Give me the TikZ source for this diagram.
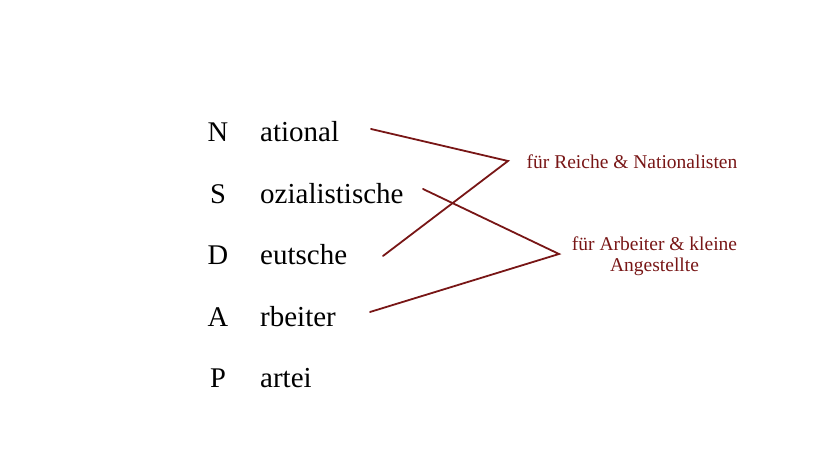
\documentclass[tikz,border=0pt]{standalone}
\usepackage{fontspec}
\setmainfont{Liberation Serif}
\definecolor{dred}{RGB}{120,22,22}
\begin{document}
\begin{tikzpicture}[x=1bp,y=1bp,
  letter/.style={anchor=base,inner sep=0pt,font=\fontsize{28.5bp}{30bp}\selectfont},
  word/.style={anchor=base west,inner sep=0pt,font=\fontsize{29bp}{30bp}\selectfont},
  lab/.style={anchor=base,inner sep=0pt,text=dred,align=center,font=\fontsize{19.5bp}{21bp}\selectfont},
  conn/.style={draw=dred,line width=1.8bp,line cap=round}]
\useasboundingbox (0,0) rectangle (828,466);
% letters (y = 466 - baseline)
\node[letter] (lN) at (218,324) {N};
\node[letter] (lS) at (218,262.5) {S};
\node[letter] (lD) at (218,201) {D};
\node[letter] (lA) at (218,139.5) {A};
\node[letter] (lP) at (218,78) {P};
% words
\node[word] (wN) at (260,324) {ational};
\node[word] (wS) at (260,262.5) {ozialistische};
\node[word] (wD) at (260,201) {eutsche};
\node[word] (wA) at (260,139.5) {rbeiter};
\node[word] (wP) at (260,78) {artei};
% labels
\node[lab] (r1) at (632,297) {für Reiche \& Nationalisten};
\node[lab] (r2) at (654.5,194.5) {für Arbeiter \& kleine\\Angestellte};
% connector end points
\coordinate (sN) at (371,337);
\coordinate (sS) at (423,277);
\coordinate (sD) at (383,210);
\coordinate (sA) at (370,154);
\coordinate (j1) at (508,305);
\coordinate (j2) at (559,212);
\draw[conn] (sN) -- (j1) -- (sD);
\draw[conn] (sS) -- (j2) -- (sA);
\end{tikzpicture}
\end{document}
